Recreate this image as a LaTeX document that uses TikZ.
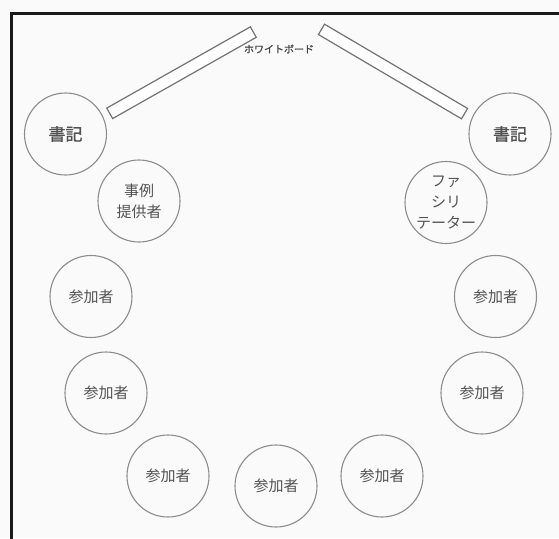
\documentclass[tikz,border=0pt]{standalone}
\usepackage{fontspec}
\setmainfont{Noto Sans CJK JP}
\newfontfamily\boldish[FakeBold=1.2]{Noto Sans CJK JP}
\begin{document}
\begin{tikzpicture}[x=1pt,y=-1pt,
  seat/.style={circle,draw=black!45,line width=1.1pt,minimum size=82pt,inner sep=0pt,text=black!68,font=\fontsize{15}{21}\selectfont,align=center},
  clerk/.style={seat,font=\boldish\fontsize{17}{20}\selectfont},
  board/.style={draw=black!55,line width=1.2pt,minimum width=165pt,minimum height=12pt,inner sep=0pt,fill=white}]
\fill[white!98!black] (0,0) rectangle (559,538);
\useasboundingbox (0,0) rectangle (559,538);
\coordinate (fb) at (11,540);
\coordinate (fc) at (11,13);
\coordinate (fe) at (561,13);
\draw[line width=3pt,black!90] (fb) -- (fc) -- (fe);
\node[board,rotate=29.5] (wbl) at (181.5,72.7) {};
\node[board,rotate=-30.5,minimum width=166pt] (wbr) at (393,71.5) {};
\node[text=black!72,font=\boldish\fontsize{10}{12}\selectfont] (wbt) at (279,49) {ホワイトボード};
\node[clerk] (sl) at (65.5,134) {書記};
\node[clerk] (sr) at (510,134) {書記};
\node[seat] (jr) at (139,201) {事例\\提供者};
\node[seat] (fa) at (446,202.5) {ファ\\シリ\\テーター};
\node[seat] (p1) at (91,296.5) {参加者};
\node[seat] (p2) at (495.5,296.5) {参加者};
\node[seat] (p3) at (106,393) {参加者};
\node[seat] (p4) at (482,393) {参加者};
\node[seat] (p5) at (168,476) {参加者};
\node[seat] (p6) at (276,486) {参加者};
\node[seat] (p7) at (382,476) {参加者};
\end{tikzpicture}
\end{document}
